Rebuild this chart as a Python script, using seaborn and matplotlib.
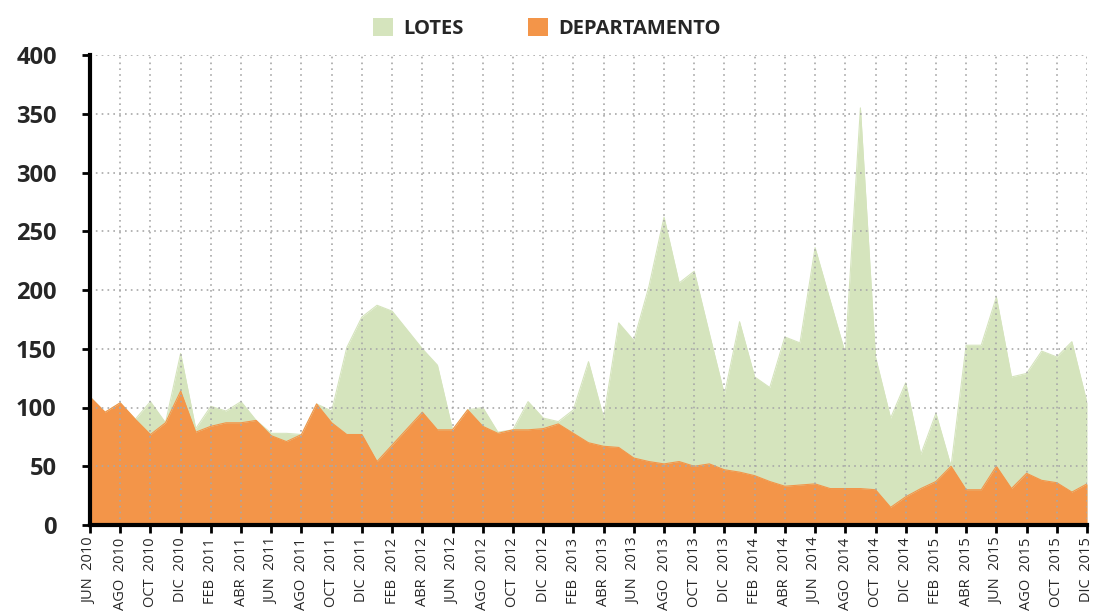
import matplotlib
matplotlib.use("Agg")
import matplotlib.pyplot as plt
from matplotlib.patches import Patch
import seaborn as sns
import pandas as pd
import numpy as np

# Monthly series, JUN 2010 .. DIC 2015
departamento = [109, 96, 104, 90, 77, 87, 114, 79, 84, 87, 87, 89,
                76, 71, 77, 103, 87, 77, 77, 54, 68, 82, 96, 81,
                81, 98, 84, 78, 81, 81, 82, 86, 78, 70, 67, 66,
                57, 54, 52, 54, 50, 52, 47, 45, 42, 37, 33, 34,
                35, 31, 31, 31, 30, 15, 24, 31, 37, 50, 30, 30,
                50, 31, 44, 38, 36, 28, 35]
lotes = [109, 96, 104, 90, 105, 87, 146, 82, 101, 97, 105, 89,
         78, 78, 77, 103, 97, 151, 177, 187, 182, 166, 150, 136,
         81, 98, 100, 79, 81, 105, 91, 88, 98, 139, 91, 172,
         157, 203, 262, 206, 216, 163, 111, 173, 126, 117, 160, 155,
         236, 191, 146, 355, 143, 91, 121, 60, 95, 50, 153, 153,
         194, 126, 129, 148, 143, 156, 104]

tick_labels = ["JUN 2010", "AGO 2010", "OCT 2010", "DIC 2010",
               "FEB 2011", "ABR 2011", "JUN 2011", "AGO 2011", "OCT 2011", "DIC 2011",
               "FEB 2012", "ABR 2012", "JUN 2012", "AGO 2012", "OCT 2012", "DIC 2012",
               "FEB 2013", "ABR 2013", "JUN 2013", "AGO 2013", "OCT 2013", "DIC 2013",
               "FEB 2014", "ABR 2014", "JUN 2014", "AGO 2014", "OCT 2014", "DIC 2014",
               "FEB 2015", "ABR 2015", "JUN 2015", "AGO 2015", "OCT 2015", "DIC 2015"]
y_ticks = [0, 50, 100, 150, 200, 250, 300, 350, 400]

green = "#d5e4bd"
orange = "#f39549"

sns.set_style("white")
plt.rcParams['font.family'] = ['Open Sans', 'DejaVu Sans']

df = pd.DataFrame({"idx": np.arange(len(lotes)), "lotes": lotes, "departamento": departamento})

fig = plt.figure(figsize=(10.94, 6.15), dpi=100)
ax = fig.add_axes([90 / 1094, 1 - 525 / 615, 997 / 1094, 470 / 615])

ax.fill_between(df["idx"], 0, df["lotes"], color=green, linewidth=0, zorder=1)
sns.lineplot(data=df, x="idx", y="lotes", ax=ax, color=green, linewidth=0.8, zorder=1.1)
ax.fill_between(df["idx"], 0, df["departamento"], color=orange, linewidth=0, zorder=1.2)
sns.lineplot(data=df, x="idx", y="departamento", ax=ax, color=orange, linewidth=0.8, zorder=1.3)

ax.set_xlim(0, len(lotes) - 1)
ax.set_ylim(0, 400)
ax.set_xticks(np.arange(0, len(lotes), 2))
ax.set_xticklabels([l.replace(" ", "  ") for l in tick_labels], rotation=90, fontsize=10.5)
ax.set_yticks(y_ticks)
ax.set_yticklabels([str(v) for v in y_ticks], fontsize=17, fontweight="bold")
ax.set_xlabel("")
ax.set_ylabel("")

ax.set_axisbelow(False)
ax.grid(True, which="major", axis="both", color="#a8a8a8", linestyle=(0, (1, 2.5)), linewidth=1.2)

for s in ["top", "right"]:
    ax.spines[s].set_visible(False)
for s in ["left", "bottom"]:
    ax.spines[s].set_color("black")
    ax.spines[s].set_linewidth(3)
    ax.spines[s].set_zorder(5)

ax.tick_params(axis="both", which="major", direction="out", length=6, width=2, color="black", bottom=True, left=True)
ax.tick_params(axis="y", pad=18)
ax.tick_params(axis="x", pad=3)

handles = [Patch(facecolor=green, edgecolor="none", label="LOTES"),
           Patch(facecolor=orange, edgecolor="none", label="DEPARTAMENTO")]
leg = fig.legend(handles=handles, loc="upper center", bbox_to_anchor=(0.5, 1.0), ncol=2, frameon=False,
                 handlelength=1.0, handleheight=1.0, handletextpad=0.5, columnspacing=3.2,
                 prop={"family": ["Open Sans", "DejaVu Sans"], "weight": "bold", "size": 14.5})

fig.savefig("out.png", dpi=100)
